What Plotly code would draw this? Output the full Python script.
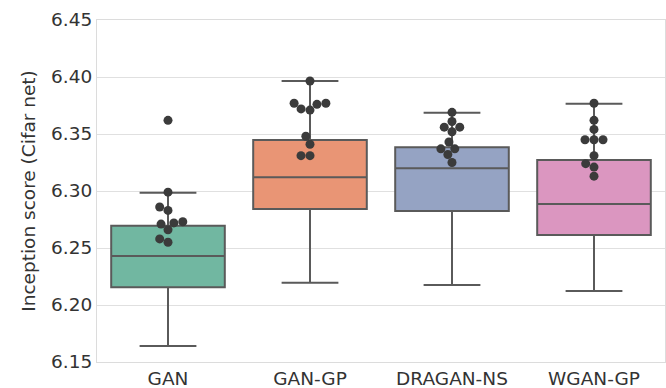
import numpy as np
import plotly.graph_objects as go

categories = ["GAN", "GAN-GP", "DRAGAN-NS", "WGAN-GP"]

# box statistics (full distribution)
q1 = [6.2155, 6.2842, 6.2825, 6.2614]
median = [6.243, 6.312, 6.320, 6.2886]
q3 = [6.2696, 6.3447, 6.3383, 6.3272]
lower = [6.164, 6.2196, 6.2175, 6.2123]
upper = [6.2985, 6.3965, 6.3687, 6.3766]

# swarm points
pts_gan = [6.362, 6.299, 6.286, 6.283, 6.273, 6.272, 6.271, 6.266, 6.258, 6.255]
pts_gangp = [6.3965, 6.377, 6.377, 6.376, 6.372, 6.371, 6.348, 6.341, 6.331, 6.331]
pts_dragan = [6.369, 6.361, 6.356, 6.356, 6.352, 6.343, 6.337, 6.337, 6.332, 6.325]
pts_wgangp = [6.377, 6.362, 6.354, 6.345, 6.345, 6.345, 6.331, 6.324, 6.321, 6.313]
points = [pts_gan, pts_gangp, pts_dragan, pts_wgangp]

colors = ["#71b7a1", "#e99575", "#95a3c3", "#db96c0"]

W, H = 666, 388
ML, MR, MT, MB = 97, 1, 20, 26
YR = (6.15, 6.45)
px_x = (W - ML - MR) / 4.0
px_y = (H - MT - MB) / (YR[1] - YR[0])
DIAM = 9.0


def swarm(vals):
    """Simple beeswarm: returns x offsets in data units."""
    order = np.argsort(vals)
    placed = []  # (xpix, ypix)
    offs = np.zeros(len(vals))
    for i in order:
        y = vals[i] * px_y
        cands = [0.0]
        for (xp, yp) in placed:
            dy = abs(y - yp)
            if dy < DIAM:
                dx = np.sqrt(DIAM ** 2 - dy ** 2)
                cands += [xp + dx, xp - dx]
        cands.sort(key=lambda c: (abs(c), c))
        for c in cands:
            ok = True
            for (xp, yp) in placed:
                if (c - xp) ** 2 + (y - yp) ** 2 < DIAM ** 2 - 1e-6:
                    ok = False
                    break
            if ok:
                placed.append((c, y))
                offs[i] = c / px_x
                break
    return offs


fig = go.Figure()
for k, cat in enumerate(categories):
    fig.add_trace(go.Box(
        x=[k], q1=[q1[k]], median=[median[k]], q3=[q3[k]],
        lowerfence=[lower[k]], upperfence=[upper[k]],
        width=0.8, whiskerwidth=0.5, boxpoints=False,
        fillcolor=colors[k], line=dict(color="#5a5a5a", width=2),
        showlegend=False, hoverinfo="skip",
    ))

for k, vals in enumerate(points):
    v = np.array(vals)
    offs = swarm(v)
    fig.add_trace(go.Scatter(
        x=k + offs, y=v, mode="markers",
        marker=dict(size=DIAM, color="#3b3b3b", line=dict(width=0)),
        showlegend=False, hoverinfo="skip",
    ))

font = dict(family="DejaVu Sans", size=18.5, color="#333333")
fig.update_layout(
    width=W, height=H,
    margin=dict(l=ML, r=MR, t=MT, b=MB, autoexpand=False),
    plot_bgcolor="white", paper_bgcolor="white",
    font=font,
    xaxis=dict(
        range=[-0.5, 3.5], tickmode="array", tickvals=[0, 1, 2, 3],
        ticktext=categories, showgrid=False, zeroline=False,
        showline=True, mirror=True, linecolor="#dcdcdc", linewidth=1,
        ticks="", tickfont=font, ticklabelstandoff=0,
    ),
    yaxis=dict(
        range=list(YR), dtick=0.05, tickformat=".2f",
        showgrid=True, gridcolor="#e0e0e0", gridwidth=1.2, zeroline=False,
        showline=True, mirror=True, linecolor="#dcdcdc", linewidth=1,
        ticks="", tickfont=font,
        title=dict(text="Inception score (Cifar net)", font=font, standoff=10),
    ),
)

fig.write_html(
    "out.html",
    config={"displayModeBar": False},
    post_script="document.body.style.margin='0';document.body.style.overflow='hidden';",
)
